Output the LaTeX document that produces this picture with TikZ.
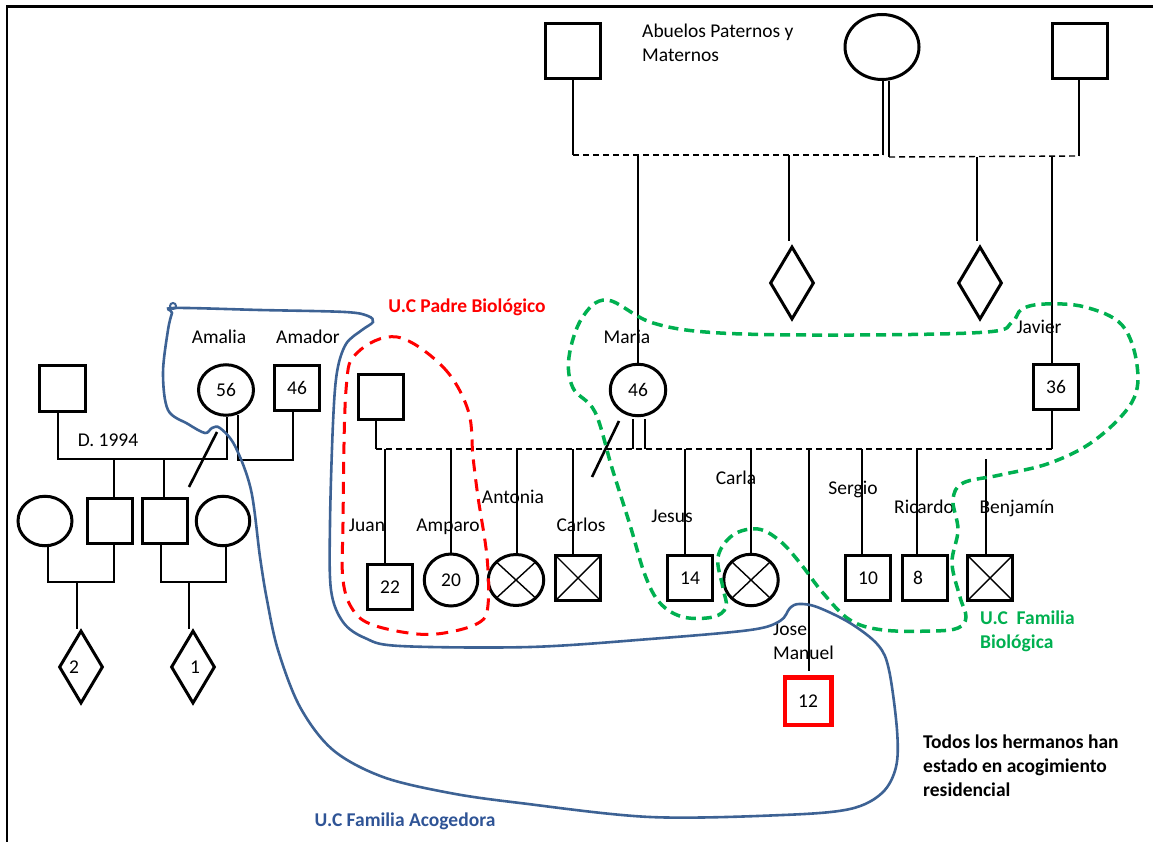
\documentclass[tikz,border=0pt]{standalone}
\usepackage{fontspec}
\setmainfont{Carlito}
\usetikzlibrary{shapes.geometric}
\definecolor{ucred}{RGB}{255,0,0}
\definecolor{ucgreen}{RGB}{0,176,80}
\definecolor{ucblue}{RGB}{61,98,148}
\definecolor{ucbluetext}{RGB}{47,84,150}
\begin{document}
\begin{tikzpicture}[x=1pt,y=-1pt, font=\fontsize{19.5}{24}\selectfont,
  person/.style={draw, line width=3pt, inner sep=0pt},
  sq/.style={person, rectangle, minimum width=45.5pt, minimum height=45.5pt},
  bigsq/.style={person, rectangle, minimum width=55pt, minimum height=55pt},
  circ/.style={person, ellipse, minimum width=54.5pt, minimum height=51.5pt},
  dia/.style={person, diamond, minimum width=44pt, minimum height=73pt},
  crossed/.style={path picture={\draw[line width=1.4pt] (path picture bounding box.north west) -- (path picture bounding box.south east) (path picture bounding box.north east) -- (path picture bounding box.south west);}},
  link/.style={line width=1.4pt},
  dlink/.style={line width=1.4pt, dash pattern=on 6pt off 4pt},
  slash/.style={line width=2.6pt},
  lbl/.style={inner sep=0pt, text height=13pt, text depth=0pt},
  blk/.style={inner sep=0pt, align=left, anchor=north west},
]
\useasboundingbox (0,0) rectangle (1153,842);
% frame
\draw[line width=3pt] (6,7) -- (1153,7);
\draw[line width=2.5pt] (7,6) -- (7,842);

% grandparents
\node[bigsq] (gpL) at (573,51) {};
\node[person, ellipse, minimum width=74pt, minimum height=65pt] (gpM) at (882,47) {};
\node[bigsq] (gpR) at (1080,51) {};
\node[blk] (abuelos) at (642,24) {Abuelos Paternos y\\Maternos};
\coordinate (tL) at (573,155);
\coordinate (tM1) at (883,155);
\coordinate (tM2) at (889,157);
\coordinate (tR) at (1079,156);
\draw[link] (gpL.south) -- (tL);
\draw[dlink] (tL) -- (tM1);
\draw[link] (gpM.south -| tM1) -- (tM1);
\draw[link] (gpM.south -| tM2) -- (tM2);
\draw[dlink] (tM2) -- (tR);
\draw[link] (gpR.south -| tR) -- (tR);

\coordinate (cMaria) at (638,155);
\coordinate (cD1) at (789,155);
\coordinate (cD2) at (977,157);
\coordinate (cJav) at (1052,156);
\node[dia] (d1) at (792,283) {};
\node[dia] (d2) at (980,283) {};
\draw[link] (cD1) -- ([yshift=4pt]cD1 |- d1.north);
\draw[link] (cD2) -- ([yshift=4pt]cD2 |- d2.north);

% parents
\node[circ, minimum width=55.5pt, minimum height=51.5pt] (maria) at (638,390) {46};
\node[lbl] at (627,337) {Maria};
\draw[link] (cMaria) -- (maria.north);
\node[sq] (javier) at (1056,387) {36};
\node[lbl] at (1039,327) {Javier};
\draw[link] (cJav) -- (cJav |- javier.north);
\node[sq] (father) at (381,397) {};
\coordinate (sF) at (376,449);
\coordinate (sJ) at (1052,449);
\draw[link] (father.south -| sF) -- (sF);
\draw[dlink] (sF) -- (sJ);
\draw[link] (javier.south -| sJ) -- (sJ);
\coordinate (mD1) at (633,449);
\coordinate (mD2) at (645,449);
\draw[link] ([yshift=-2pt]mD1 |- maria.south) -- (mD1);
\draw[link] ([yshift=-2pt]mD2 |- maria.south) -- (mD2);
\coordinate (mS1) at (619,421);
\coordinate (mS2) at (592,477);
\draw[slash] (mS1) -- (mS2);

% children
\node[sq] (juan) at (390,587) {22};
\node[circ, minimum width=53.5pt, minimum height=52pt] (amparo) at (451,580) {20};
\node[circ, crossed, minimum width=55.5pt, minimum height=51pt] (antonia) at (516,580) {};
\node[sq, crossed] (carlos) at (578,578) {};
\node[sq] (jesus) at (690,578) {14};
\node[circ, crossed] (carla) at (751,580) {};
\node[sq, draw=ucred, line width=4.5pt, minimum width=46.5pt, minimum height=47.5pt] (jose) at (808,701) {12};
\node[sq] (sergio) at (868,578) {10};
\node[sq] (ricardo) at (925,578) {\hspace*{-14pt}8};
\node[sq, crossed] (benjamin) at (990,578) {};

\coordinate (cJuan) at (385,449);
\coordinate (cAmp) at (451,449);
\coordinate (cAnt) at (517,449);
\coordinate (cCar) at (573,449);
\coordinate (cJes) at (685,449);
\coordinate (cCla) at (751,449);
\coordinate (cJos) at (809,449);
\coordinate (cSer) at (862,449);
\coordinate (cRic) at (917,449);
\coordinate (cBen) at (986,459);
\draw[link] (cJuan) -- (cJuan |- juan.north);
\draw[link] (cAmp) -- (amparo.north);
\draw[link] (cAnt) -- (cAnt |- antonia.north);
\draw[link] (cCar) -- (cCar |- carlos.north);
\draw[link] (cJes) -- (cJes |- jesus.north);
\draw[link] (cCla) -- (carla.north);
\draw[link] (cJos) -- ([yshift=4pt]cJos |- jose.north);
\draw[link] (cSer) -- (cSer |- sergio.north);
\draw[link] (cRic) -- (cRic |- ricardo.north);
\draw[link] (cBen) -- (cBen |- benjamin.north);

\node[lbl] at (367,525) {Juan};
\node[lbl] at (448,525) {Amparo};
\node[lbl] at (513,497) {Antonia};
\node[lbl] at (581,525) {Carlos};
\node[lbl] at (672,516) {Jesus};
\node[lbl] at (736,478) {Carla};
\node[lbl] at (853,488) {Sergio};
\node[lbl] at (924,507) {Ricardo};
\node[lbl] at (1017,507) {Benjamín};
\node[blk] at (773,623) {Jose\\Manuel};

% left family
\node[sq, minimum width=46pt, minimum height=46pt] (lsq) at (62,388) {};
\node[circ, minimum width=55pt, minimum height=50.5pt] (amalia) at (226,390) {56};
\node[sq] (amador) at (297,388) {46};
\node[lbl] at (219,337) {Amalia};
\node[lbl] at (308,337) {Amador};
\node[lbl] at (108,440) {D. 1994};
\coordinate (lA) at (58,459);
\coordinate (lB) at (227,459);
\coordinate (lC) at (238,460);
\coordinate (lD) at (293,460);
\draw[link] (lsq.south -| lA) -- (lA) -- (lB) -- (lB |- amalia.south);
\draw[link] ([yshift=2pt]amalia.south -| lC) -- (lC) -- (lD) -- (amador.south -| lD);
\coordinate (ch1) at (114,459);
\coordinate (ch2) at (164,459);
\node[circ, minimum width=54pt, minimum height=49.5pt] (circA) at (45,521) {};
\node[sq] (sqB) at (110,521) {};
\node[sq] (sqC) at (165,521) {};
\node[circ, minimum width=53.5pt, minimum height=49.5pt] (circD) at (223,521) {};
\draw[link] (ch1) -- (ch1 |- sqB.north);
\draw[link] (ch2) -- (ch2 |- sqC.north);
\coordinate (aS1) at (217,432);
\coordinate (aS2) at (189,487);
\draw[slash] (aS1) -- (aS2);
\coordinate (bA) at (48,582);
\coordinate (bB) at (114,582);
\coordinate (bC) at (161,582);
\coordinate (bD) at (226,582);
\coordinate (bX) at (77,582);
\coordinate (bY) at (189,582);
\draw[link] ([yshift=2pt]circA.south -| bA) -- (bA) -- (bB) -- (sqB.south -| bB);
\draw[link] (sqC.south -| bC) -- (bC) -- (bD) -- ([yshift=2pt]circD.south -| bD);
\node[dia] (dL2) at (81,667) {\hspace*{-14pt}2};
\node[dia] (dL1) at (193,667) {\hspace*{4pt}1};
\draw[link] (bX) -- (bX |- dL2.north);
\draw[link] (bY) -- (bY |- dL1.north);

% groupings
\draw[ucred, line width=3pt, dash pattern=on 12pt off 8pt] plot[smooth cycle, tension=0.6] coordinates {
 (397,337) (443,367) (468,410) (473,457) (478,497) (487,557) (488,605) (480,622) (450,632) (417,634) (373,625) (353,610) (343,580) (343,523) (346,390) (357,353)};
\draw[ucgreen, line width=3.5pt, dash pattern=on 10pt off 6pt] plot[smooth cycle, tension=0.6] coordinates {
 (607,300) (653,323) (720,333) (853,335) (987,332) (1012,322) (1022,309) (1045,304) (1085,307) (1122,325) (1137,365) (1132,402) (1095,440) (1050,463) (1000,475) (963,483) (953,500) (958,530) (952,563) (960,597) (966,617) (958,628) (933,631) (883,630) (850,620) (823,593) (800,563) (780,541) (758,529) (733,535) (718,557) (723,588) (726,607) (713,617) (683,617) (660,603) (645,575) (630,525) (612,468) (595,412) (573,388) (569,357) (582,318)};
\draw[ucblue, line width=2.6pt] plot[smooth cycle, tension=0.55] coordinates {
 (174,308) (260,310) (345,312) (368,316) (373,322) (362,330) (346,344) (337,372) (333,423) (330,523) (331,590) (343,622) (365,638) (400,646) (530,647) (650,639) (750,630) (780,621) (790,608) (799,604) (817,607) (850,623) (878,645) (889,670) (897,730) (896,767) (882,793) (850,809) (783,815) (650,817) (520,803) (450,793) (383,777) (333,750) (300,707) (278,650) (267,600) (260,557) (251,490) (235,446) (220,428) (212,428) (205,433) (188,424) (168,410) (163,373) (168,330) (172,313)};
\draw[ucblue, line width=2pt] (173,306) circle (3pt);

\node[lbl, text=ucred, font=\fontsize{19.5}{24}\selectfont\bfseries] at (467,306) {U.C Padre Biológico};
\node[blk, text=ucgreen, font=\fontsize{19.5}{24}\selectfont\bfseries] at (980,611) {U.C\ \ Familia\\Biológica};
\node[blk, font=\fontsize{19.5}{24}\selectfont\bfseries] at (923,735) {Todos los hermanos han\\estado en acogimiento\\residencial};
\node[lbl, text=ucbluetext, font=\fontsize{19.5}{24}\selectfont\bfseries] at (405,820) {U.C Familia Acogedora};
\end{tikzpicture}
\end{document}
